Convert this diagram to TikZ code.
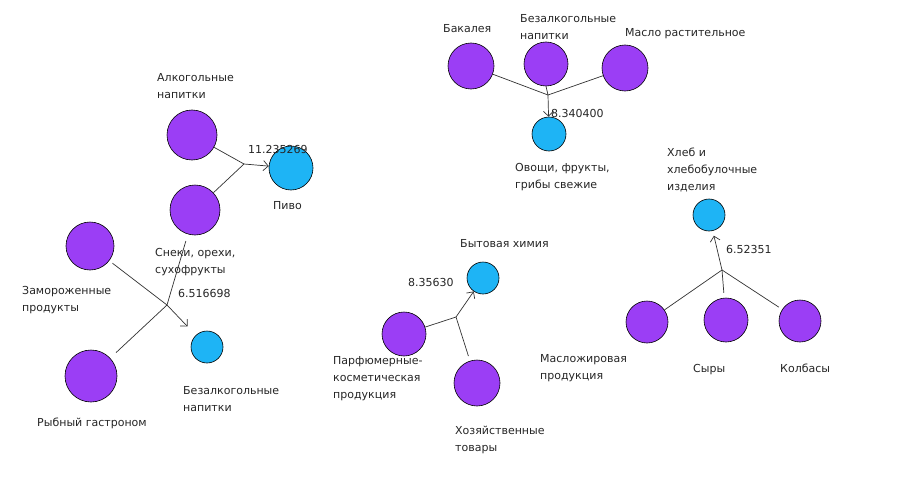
\documentclass[tikz,border=0pt]{standalone}
\usepackage{fontspec}
\usetikzlibrary{arrows.meta}
\setmainfont{DejaVu Sans}
\definecolor{grpurple}{RGB}{155,62,245}
\definecolor{grblue}{RGB}{30,180,245}
\definecolor{edgegray}{RGB}{50,50,50}

\begin{document}
\begin{tikzpicture}[x=1pt, y=-1pt,
        src/.style={circle, draw=black, fill=grpurple, inner sep=0pt, line width=0.6pt},
        dst/.style={circle, draw=black, fill=grblue, inner sep=0pt, line width=0.6pt},
        lbl/.style={anchor=north west, inner sep=0pt, align=left, text=black!85, font=\fontsize{11}{17}\selectfont},
        num/.style={anchor=north west, inner sep=0pt, text=black!85, font=\fontsize{11}{17}\selectfont},
        edge/.style={draw=edgegray, line width=0.7pt},
        tip/.style={-{Straight Barb[length=5pt, width=10pt]}}]
            \useasboundingbox[fill=white] (0, 0) rectangle (902, 495);
            % first cluster
            \node[src, minimum size=50pt] (alko) at (192, 135) {};
            \node[src, minimum size=50pt] (snack) at (195, 210) {};
            \node[dst, minimum size=44pt] (pivo) at (291, 168) {};
            \node[src, minimum size=48pt] (frozen) at (90, 246) {};
            \node[src, minimum size=52pt] (fish) at (91, 376) {};
            \node[dst, minimum size=32pt] (soft) at (207, 347) {};
            \coordinate (jPivo) at (244, 164);
            \coordinate (jSoft) at (167, 305);
            \draw[edge] (alko) -- (jPivo);
            \draw[edge] (snack) -- (jPivo);
            \draw[edge, tip] (jPivo) -- (pivo);
            \draw[edge, shorten <=4pt] (frozen) -- (jSoft);
            \draw[edge, shorten <=8pt] (fish) -- (jSoft);
            \draw[edge, shorten <=7pt] (snack) -- (jSoft);
            \draw[edge, tip, shorten >=12pt] (jSoft) -- (soft);
            \node[lbl] (lAlko) at (157, 73) {Алкогольные\\напитки};
            \node[lbl] (lPivo) at (273, 201) {Пиво};
            \node[lbl] (lSnack) at (155, 248) {Снеки, орехи,\\сухофрукты};
            \node[lbl] (lFrozen) at (22, 286) {Замороженные\\продукты};
            \node[lbl] (lFish) at (37, 418) {Рыбный гастроном};
            \node[lbl] (lSoft) at (183, 386) {Безалкогольные\\напитки};
            \node[num] (nPivo) at (248, 145) {11.235269};
            \node[num] (nSoft) at (178, 289) {6.516698};
            % second cluster
            \node[src, minimum size=46pt] (bakal) at (471, 66) {};
            \node[src, minimum size=44pt] (softTop) at (546, 64) {};
            \node[src, minimum size=46pt] (oil) at (625, 68) {};
            \node[dst, minimum size=34pt] (veg) at (549, 134) {};
            \coordinate (jVeg) at (548, 95);
            \draw[edge] (bakal) -- (jVeg);
            \draw[edge] (oil) -- (jVeg);
            \draw[edge] (softTop.south) -- (jVeg);
            \draw[edge, tip] (jVeg) -- (veg);
            \node[lbl] (lBakal) at (443, 24) {Бакалея};
            \node[lbl] (lSoftTop) at (520, 14) {Безалкогольные\\напитки};
            \node[lbl] (lOil) at (625, 28) {Масло растительное};
            \node[lbl] (lVeg) at (515, 163) {Овощи, фрукты,\\грибы свежие};
            \node[num] (nVeg) at (551, 109) {8.340400};
            % third cluster
            \node[dst, minimum size=32pt] (chem) at (483, 278) {};
            \node[src, minimum size=44pt] (perf) at (404, 334) {};
            \node[src, minimum size=46pt] (house) at (477, 383) {};
            \coordinate (jChem) at (456, 317);
            \draw[edge] (perf) -- (jChem);
            \draw[edge, shorten <=5pt] (house) -- (jChem);
            \draw[edge, tip] (jChem) -- (chem);
            \node[lbl] (lChem) at (460, 239) {Бытовая химия};
            \node[lbl] (lPerf) at (333, 356) {Парфюмерные-\\косметическая\\продукция};
            \node[lbl] (lHouse) at (455, 426) {Хозяйственные\\товары};
            \node[num] (nChem) at (408, 278) {8.35630};
            % fourth cluster
            \node[dst, minimum size=32pt] (bread) at (709, 215) {};
            \node[src, minimum size=42pt] (fat) at (647, 322) {};
            \node[src, minimum size=44pt] (cheese) at (726, 320) {};
            \node[src, minimum size=42pt] (saus) at (800, 321) {};
            \coordinate (jBread) at (722, 270);
            \draw[edge] (fat) -- (jBread);
            \draw[edge, shorten <=5pt] (cheese) -- (jBread);
            \draw[edge, shorten <=4pt] (saus) -- (jBread);
            \draw[edge, tip, shorten >=5pt] (jBread) -- (bread);
            \node[lbl] (lFat) at (540, 354) {Масложировая\\продукция};
            \node[lbl] (lBread) at (667, 148) {Хлеб и\\хлебобулочные\\изделия};
            \node[lbl] (lCheese) at (693, 364) {Сыры};
            \node[lbl] (lSaus) at (780, 364) {Колбасы};
            \node[num] (nBread) at (726, 245) {6.52351};
        \end{tikzpicture}
\end{document}
